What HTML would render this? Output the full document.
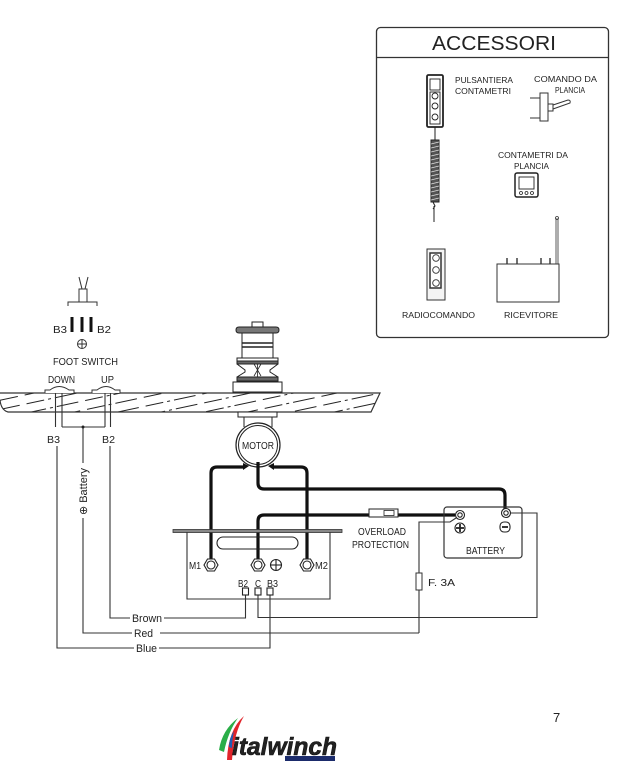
<!DOCTYPE html>
<html><head><meta charset="utf-8"><style>
html,body{margin:0;padding:0;background:#fff;}
svg{display:block;}
text{font-family:"Liberation Sans",sans-serif;fill:#222;}
</style></head><body>
<svg width="620" height="784" viewBox="0 0 620 784" xmlns="http://www.w3.org/2000/svg">
<defs>
<pattern id="hatch" width="58" height="9" patternUnits="userSpaceOnUse" patternTransform="rotate(-12)">
<line x1="0" y1="4.5" x2="58" y2="4.5" stroke="#222" stroke-width="1.1" stroke-dasharray="18 4 3 4 22 7"/>
</pattern>
</defs>

<!-- ACCESSORI BOX -->
<rect x="376.5" y="27.5" width="232" height="310" rx="4" fill="none" stroke="#333" stroke-width="1.3"/>
<line x1="377" y1="57.5" x2="608" y2="57.5" stroke="#333" stroke-width="1.2"/>
<text x="494" y="50" font-size="20" text-anchor="middle" textLength="124" lengthAdjust="spacingAndGlyphs">ACCESSORI</text>

<g font-size="8.5" fill="#333">
<text x="455" y="83" textLength="58" lengthAdjust="spacingAndGlyphs">PULSANTIERA</text>
<text x="455" y="94" textLength="56" lengthAdjust="spacingAndGlyphs">CONTAMETRI</text>
<text x="534" y="82" textLength="63" lengthAdjust="spacingAndGlyphs">COMANDO  DA</text>
<text x="555" y="93" textLength="30" lengthAdjust="spacingAndGlyphs">PLANCIA</text>
<text x="498" y="158" textLength="70" lengthAdjust="spacingAndGlyphs">CONTAMETRI DA</text>
<text x="514" y="169" textLength="35" lengthAdjust="spacingAndGlyphs">PLANCIA</text>
<text x="402" y="318" textLength="73" lengthAdjust="spacingAndGlyphs">RADIOCOMANDO</text>
<text x="504" y="318" textLength="54" lengthAdjust="spacingAndGlyphs">RICEVITORE</text>
</g>

<!-- pulsantiera -->
<g stroke="#222" fill="none">
<rect x="427" y="75" width="16" height="52" rx="1.5" stroke-width="1.8"/>
<rect x="430" y="79" width="10" height="11" stroke-width="0.9"/>
<rect x="430" y="92" width="10" height="32" stroke-width="0.9"/>
<circle cx="435" cy="96" r="3" stroke-width="0.9"/>
<circle cx="435" cy="106" r="3" stroke-width="0.9"/>
<circle cx="435" cy="117" r="3" stroke-width="0.9"/>
<line x1="435" y1="127" x2="435" y2="140" stroke-width="1"/>
<rect x="431" y="140" width="8" height="62" fill="#555" stroke-width="1"/>
</g>
<g stroke="#ddd" stroke-width="0.7">
<line x1="431" y1="144" x2="439" y2="142"/><line x1="431" y1="148" x2="439" y2="146"/><line x1="431" y1="152" x2="439" y2="150"/>
<line x1="431" y1="156" x2="439" y2="154"/><line x1="431" y1="160" x2="439" y2="158"/><line x1="431" y1="164" x2="439" y2="162"/>
<line x1="431" y1="168" x2="439" y2="166"/><line x1="431" y1="172" x2="439" y2="170"/><line x1="431" y1="176" x2="439" y2="174"/>
<line x1="431" y1="180" x2="439" y2="178"/><line x1="431" y1="184" x2="439" y2="182"/><line x1="431" y1="188" x2="439" y2="186"/>
<line x1="431" y1="192" x2="439" y2="190"/><line x1="431" y1="196" x2="439" y2="194"/><line x1="431" y1="200" x2="439" y2="198"/>
</g>
<g stroke="#222" fill="none" stroke-width="1">
<path d="M433 202 L435 206 L433 209"/>
<line x1="434" y1="206" x2="434" y2="222"/>
</g>

<!-- comando da plancia toggle -->
<g stroke="#333" fill="none" stroke-width="1">
<line x1="530" y1="98" x2="540" y2="98"/>
<line x1="530" y1="118" x2="540" y2="118"/>
<rect x="540" y="93" width="8" height="28" fill="#fff"/>
<rect x="548" y="104" width="5" height="7"/>
<path d="M553 105 L568 100 Q571 100 570 103 L553 109"/>
</g>

<!-- contametri da plancia -->
<g stroke="#222" fill="none">
<rect x="515" y="173" width="23" height="24" rx="2" stroke-width="1.5"/>
<rect x="519" y="177" width="15" height="12" stroke-width="0.9"/>
<circle cx="521" cy="193" r="1.5" stroke-width="0.8"/>
<circle cx="526.5" cy="193" r="1.5" stroke-width="0.8"/>
<circle cx="532" cy="193" r="1.5" stroke-width="0.8"/>
</g>

<!-- radiocomando -->
<g stroke="#333" fill="none">
<rect x="427" y="249" width="18" height="51" stroke-width="1" fill="#f4f4f4"/>
<rect x="430" y="253" width="11" height="35" stroke-width="1.5" fill="#fff"/>
<circle cx="436" cy="258" r="3.3" stroke-width="0.9"/>
<circle cx="436" cy="270" r="3.3" stroke-width="0.9"/>
<circle cx="436" cy="283" r="3.3" stroke-width="0.9"/>
</g>

<!-- ricevitore -->
<g stroke="#333" fill="none" stroke-width="1">
<rect x="497" y="264" width="62" height="38" fill="#fff"/>
<line x1="507" y1="258" x2="507" y2="264" stroke-width="1.4"/>
<line x1="517" y1="258" x2="517" y2="264" stroke-width="1.4"/>
<line x1="541" y1="258" x2="541" y2="264" stroke-width="1.4"/>
<line x1="550" y1="258" x2="550" y2="264" stroke-width="1.4"/>
<rect x="556" y="219" width="2" height="45" stroke-width="0.8"/>
<circle cx="557" cy="218" r="1.5" stroke-width="0.8"/>
</g>

<!-- FOOT SWITCH top -->
<g stroke="#333" fill="none" stroke-width="1">
<line x1="79" y1="277" x2="82" y2="289"/>
<line x1="88" y1="277" x2="85" y2="289"/>
<rect x="79" y="289" width="8" height="13"/>
<path d="M68 306 V302 H97 V306"/>
</g>
<rect x="70.5" y="317" width="3" height="15" fill="#111"/>
<rect x="80.5" y="317" width="3" height="15" fill="#111"/>
<rect x="89.5" y="317" width="3" height="15" fill="#111"/>
<g font-size="10">
<text x="53" y="333" textLength="14" lengthAdjust="spacingAndGlyphs">B3</text>
<text x="97" y="333" textLength="14" lengthAdjust="spacingAndGlyphs">B2</text>
<text x="53" y="365" textLength="65" lengthAdjust="spacingAndGlyphs">FOOT  SWITCH</text>
<text x="48" y="383" textLength="27" lengthAdjust="spacingAndGlyphs">DOWN</text>
<text x="101" y="383" textLength="13" lengthAdjust="spacingAndGlyphs">UP</text>
<text x="47" y="443" textLength="13" lengthAdjust="spacingAndGlyphs">B3</text>
<text x="102" y="443" textLength="13" lengthAdjust="spacingAndGlyphs">B2</text>
</g>
<g stroke="#333" fill="none" stroke-width="1">
<circle cx="82" cy="344" r="4.5"/>
<line x1="78" y1="344" x2="86" y2="344"/><line x1="82" y1="340" x2="82" y2="348"/>
</g>

<!-- DECK -->
<path d="M0 393 H380 L371 412 H8 Q1 410 0 400 Z" fill="url(#hatch)" stroke="none"/>
<path d="M0 393 H380 L371 412 H8 Q1 410 0 400" fill="none" stroke="#333" stroke-width="1.2"/>

<!-- buttons -->
<g stroke="#333" fill="#fff" stroke-width="1">
<path d="M45 393 V390 H50 Q59 383 69 390 H74 V393"/>
<path d="M92 393 V390 H97 Q106 383 115 390 H120 V393"/>
</g>
<g stroke="#333" fill="none" stroke-width="1.1">
<line x1="55.5" y1="393" x2="55.5" y2="427"/>
<line x1="62" y1="393" x2="62" y2="427"/>
<line x1="105" y1="393" x2="105" y2="427"/>
<line x1="110.5" y1="393" x2="110.5" y2="427"/>
<line x1="62" y1="427" x2="105" y2="427"/>
<line x1="83" y1="427" x2="83" y2="463"/>
</g>
<circle cx="83" cy="427" r="1.5" fill="#222"/>

<!-- long wires -->
<g stroke="#333" fill="none" stroke-width="1.1">
<path d="M57 446 V648 H134"/>
<path d="M159 648 H270 V595"/>
<path d="M83 518 V633 H132"/>
<path d="M160 633 H419"/>
<path d="M110 446 V618 H130"/>
<path d="M164 618 H245.5 V595"/>
<path d="M258 595 V617.5 H537 V513 H510"/>
<path d="M419 633 V522 H450 L456 518"/>
</g>
<rect x="416" y="573" width="6" height="17" fill="#fff" stroke="#333" stroke-width="1"/>
<text x="428" y="586" font-size="10" textLength="27" lengthAdjust="spacingAndGlyphs">F.  3A</text>

<g font-size="11">
<text x="132" y="622" textLength="30" lengthAdjust="spacingAndGlyphs">Brown</text>
<text x="134" y="637" textLength="19" lengthAdjust="spacingAndGlyphs">Red</text>
<text x="136" y="652" textLength="21" lengthAdjust="spacingAndGlyphs">Blue</text>
<text transform="translate(87,491.5) rotate(-90)" text-anchor="middle" textLength="47" lengthAdjust="spacingAndGlyphs">⊕ Battery</text>
</g>

<!-- WINCH -->
<g stroke="#222" stroke-width="1">
<rect x="252" y="322" width="11" height="5" fill="#fff"/>
<path d="M239 327 H276 Q279 327 279 330 Q279 333 276 333 H239 Q236 333 236 330 Q236 327 239 327 Z" fill="#777"/>
<rect x="242" y="333" width="31" height="25" fill="#fff"/>
<line x1="242" y1="343" x2="273" y2="343" stroke-width="1.6"/>
<line x1="242" y1="347" x2="273" y2="347" stroke-width="1.6"/>
<path d="M237 358 H278 V364 L270 370 V372 L278 377 V382 H237 V377 L245 372 V370 L237 364 Z" fill="#fff"/>
<rect x="237" y="361" width="41" height="3" fill="#666"/>
<rect x="237" y="377" width="41" height="4" fill="#666"/>
<line x1="254" y1="364" x2="261" y2="376" stroke-width="0.8"/>
<line x1="261" y1="364" x2="254" y2="376" stroke-width="0.8"/>
<line x1="257.5" y1="364" x2="257.5" y2="377" stroke-width="0.8"/>
<rect x="233" y="382" width="49" height="10" fill="#fff"/>
<rect x="238" y="412" width="39" height="5" fill="#fff"/>
<path d="M244 417 V427 M272 417 V427" fill="none"/>
<circle cx="258" cy="445" r="22" fill="#fff" stroke-width="1.2"/>
<circle cx="258" cy="445" r="19.5" fill="none" stroke-width="1"/>
</g>
<text x="258" y="449" font-size="10" text-anchor="middle" textLength="32" lengthAdjust="spacingAndGlyphs">MOTOR</text>

<!-- thick wires -->
<g stroke="#111" fill="none" stroke-width="3.2" stroke-linejoin="round">
<path d="M211 559 V473 Q211 467 217 467 H243"/>
<path d="M307 559 V473 Q307 467 301 467 H274"/>
<path d="M258 462 V483 Q258 489 264 489 H499 Q505 489 505 495 V509"/>
<path d="M258 559 V521 Q258 515 264 515 H455"/>
</g>
<path d="M243 463 L249 466 L243 470 Z" fill="#111"/>
<path d="M274 463 L268 466 L274 470 Z" fill="#111"/>

<!-- control box -->
<rect x="173" y="529.5" width="169" height="3" fill="#888" stroke="#333" stroke-width="0.8"/>
<path d="M187 532 V599 H330 V532" fill="none" stroke="#333" stroke-width="1.1"/>
<rect x="217" y="537" width="81" height="12" rx="6" fill="none" stroke="#222" stroke-width="1.1"/>
<g stroke="#222" fill="#fff" stroke-width="1.1">
<polygon points="204,565 207.5,559 214.5,559 218,565 214.5,571 207.5,571"/>
<circle cx="211" cy="565" r="4"/>
<polygon points="251,565 254.5,559 261.5,559 265,565 261.5,571 254.5,571"/>
<circle cx="258" cy="565" r="4"/>
<polygon points="300,565 303.5,559 310.5,559 314,565 310.5,571 303.5,571"/>
<circle cx="307" cy="565" r="4"/>
<circle cx="276" cy="565" r="5.5"/>
<line x1="271" y1="565" x2="281" y2="565"/><line x1="276" y1="560" x2="276" y2="570"/>
<rect x="242.5" y="588" width="6" height="7"/>
<rect x="255" y="588" width="6" height="7"/>
<rect x="267" y="588" width="6" height="7"/>
</g>
<g font-size="10">
<text x="189" y="569" textLength="12" lengthAdjust="spacingAndGlyphs">M1</text>
<text x="315" y="569" textLength="13" lengthAdjust="spacingAndGlyphs">M2</text>
<text x="238" y="587" textLength="10" lengthAdjust="spacingAndGlyphs">B2</text>
<text x="255" y="587" textLength="6" lengthAdjust="spacingAndGlyphs">C</text>
<text x="267" y="587" textLength="11" lengthAdjust="spacingAndGlyphs">B3</text>
<text x="358" y="535" textLength="48" lengthAdjust="spacingAndGlyphs">OVERLOAD</text>
<text x="352" y="548" textLength="57" lengthAdjust="spacingAndGlyphs">PROTECTION</text>
<text x="466" y="554" textLength="39" lengthAdjust="spacingAndGlyphs">BATTERY</text>
</g>

<!-- overload -->
<rect x="369" y="509" width="29" height="8" fill="#fff" stroke="#222" stroke-width="1"/>
<rect x="384" y="510.5" width="10" height="5" fill="#fff" stroke="#222" stroke-width="0.8"/>

<!-- battery -->
<rect x="444" y="507" width="78" height="51" rx="3" fill="none" stroke="#333" stroke-width="1.2"/>
<g stroke="#222" fill="#fff" stroke-width="1.1">
<circle cx="460" cy="515" r="4.5"/>
<circle cx="460" cy="515" r="2.2"/>
<circle cx="506" cy="513" r="4.5"/>
<circle cx="506" cy="513" r="2.2"/>
<circle cx="460" cy="528" r="5"/>
<line x1="456" y1="528" x2="464" y2="528" stroke-width="1.8"/><line x1="460" y1="524" x2="460" y2="532" stroke-width="1.8"/>
<rect x="500" y="522" width="10" height="10" rx="4"/>
<line x1="502" y1="527" x2="508" y2="527" stroke-width="1.8"/>
</g>

<!-- page number -->
<text x="553" y="722" font-size="13" fill="#222">7</text>

<!-- logo -->
<path d="M219 750 Q222 730 238 718 Q228 732 224 752 Z" fill="#2aae48"/>
<path d="M227 760 Q228 730 244 716 Q234 733 232 760 Z" fill="#e1252b"/>
<path d="M229 747 Q229 738 234 731 Q232 740 232 748 Z" fill="#1f5db3"/>
<text x="232" y="755" font-size="25" font-weight="bold" font-style="italic" fill="#111" stroke="#111" stroke-width="0.6" textLength="105" lengthAdjust="spacingAndGlyphs">italwinch</text>
<rect x="285" y="756" width="50" height="5" fill="#1b2b6b"/>
</svg>
</body></html>
